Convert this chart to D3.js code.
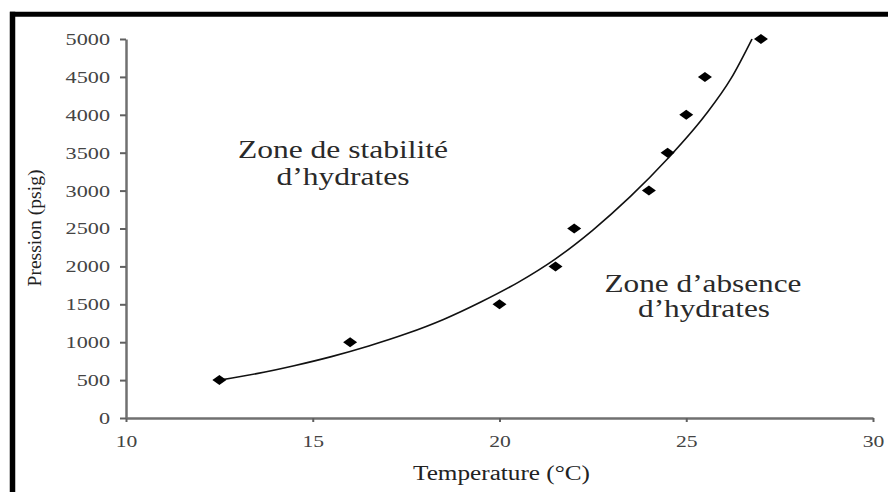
<!DOCTYPE html>
<html>
<head>
<meta charset="utf-8">
<script src="https://cdn.jsdelivr.net/npm/d3@7"></script>
<style>
  body { margin: 0; background: #fff; }
  svg { display: block; font-family: "Liberation Serif", "Times New Roman", serif; }
</style>
</head>
<body>
<div class="chart"></div>
<script>
var width = 888,
    height = 492;

// measured points (diamonds)
var temps = [12.5, 16, 20, 21.5, 22, 24, 24.5, 25, 25.5, 27];
var pressures = [500, 1000, 1500, 2000, 2500, 3000, 3500, 4000, 4500, 5000];

// trend curve
var curveT = [12.5, 13.5, 14.5, 15.5, 16.5, 17.5, 18.5, 19.5, 20.5, 21.5, 22.5, 23.5, 24.5, 25.5, 26.2, 26.76];
var curveP = [500, 585, 690, 810, 950, 1110, 1300, 1530, 1790, 2100, 2480, 2920, 3420, 3990, 4480, 5000];

var xTicks = [10, 15, 20, 25, 30];
var yTicks = [0, 500, 1000, 1500, 2000, 2500, 3000, 3500, 4000, 4500, 5000];

var svg = d3.select(".chart")
    .append("svg")
    .attr("width", width)
    .attr("height", height);

// frame (only top and left show)
svg.append("line")
    .attr("x1", 10).attr("x2", width)
    .attr("y1", 14.2).attr("y2", 14.2)
    .style("stroke", "#000").style("stroke-width", 5);
svg.append("line")
    .attr("x1", 12.5).attr("x2", 12.5)
    .attr("y1", 11.7).attr("y2", height)
    .style("stroke", "#000").style("stroke-width", 5.5);

var x = d3.scaleLinear().domain([10, 30]).range([126, 873]);
var y = d3.scaleLinear().domain([0, 5000]).range([418, 39]);

var xAxis = svg.append("g")
    .attr("transform", "translate(0," + y(0) + ")")
    .call(d3.axisBottom(x).tickValues(xTicks).tickFormat(d3.format("d"))
        .tickSize(4).tickPadding(12.5).tickSizeOuter(0));

var yAxis = svg.append("g")
    .attr("transform", "translate(" + x(10) + ",0)")
    .call(d3.axisLeft(y).tickValues(yTicks).tickFormat(d3.format("d"))
        .tickSize(6).tickPadding(10).tickSizeOuter(0));

[xAxis, yAxis].forEach(function (g) {
    g.select(".domain").style("stroke", "#707070").style("stroke-width", 2.5);
    g.selectAll(".tick line").style("stroke", "#606060").style("stroke-width", 2);
    g.selectAll(".tick text")
        .style("font-family", "'Liberation Serif', 'Times New Roman', serif")
        .style("font-size", "17px")
        .style("fill", "#444");
});
yAxis.selectAll(".tick text")
    .attr("textLength", function (d) { return String(d).length * 11.1; })
    .attr("lengthAdjust", "spacingAndGlyphs");
xAxis.selectAll(".tick text")
    .attr("textLength", function (d) { return String(d).length * 10.8; })
    .attr("lengthAdjust", "spacingAndGlyphs");

// trend curve
var curveData = curveT.map(function (t, i) { return [t, curveP[i]]; });
var line = d3.line()
    .x(function (d) { return x(d[0]); })
    .y(function (d) { return y(d[1]); })
    .curve(d3.curveMonotoneX);

svg.append("path")
    .datum(curveData)
    .attr("d", line)
    .style("fill", "none")
    .style("stroke", "#111")
    .style("stroke-width", 1.6);

// diamonds
svg.append("g")
    .selectAll("path")
    .data(temps.map(function (t, i) { return [t, pressures[i]]; }))
    .enter().append("path")
    .attr("d", "M-7,0L0,-5L7,0L0,5Z")
    .attr("transform", function (d) { return "translate(" + x(d[0]) + "," + y(d[1]) + ")"; })
    .style("fill", "#000");

// axis titles
svg.append("text")
    .attr("x", 501.5).attr("y", 480)
    .attr("text-anchor", "middle")
    .attr("textLength", 177).attr("lengthAdjust", "spacingAndGlyphs")
    .style("font-size", "20px").style("fill", "#222")
    .text("Temperature (°C)");

svg.append("text")
    .attr("transform", "translate(41,228) rotate(-90)")
    .attr("text-anchor", "middle")
    .attr("textLength", 117).attr("lengthAdjust", "spacingAndGlyphs")
    .style("font-size", "18px").style("fill", "#222")
    .text("Pression (psig)");

// zone labels
var zones = [
    { text: "Zone de stabilité", x: 343, y: 158.3, len: 210 },
    { text: "d’hydrates", x: 343, y: 185, len: 133 },
    { text: "Zone d’absence", x: 703, y: 291.7, len: 197 },
    { text: "d’hydrates", x: 704, y: 316.7, len: 132 }
];

svg.append("g")
    .selectAll("text")
    .data(zones)
    .enter().append("text")
    .attr("x", function (d) { return d.x; })
    .attr("y", function (d) { return d.y; })
    .attr("text-anchor", "middle")
    .attr("textLength", function (d) { return d.len; })
    .attr("lengthAdjust", "spacingAndGlyphs")
    .style("font-size", "25px")
    .style("fill", "#2a2a2a")
    .text(function (d) { return d.text; });
</script>
</body>
</html>
